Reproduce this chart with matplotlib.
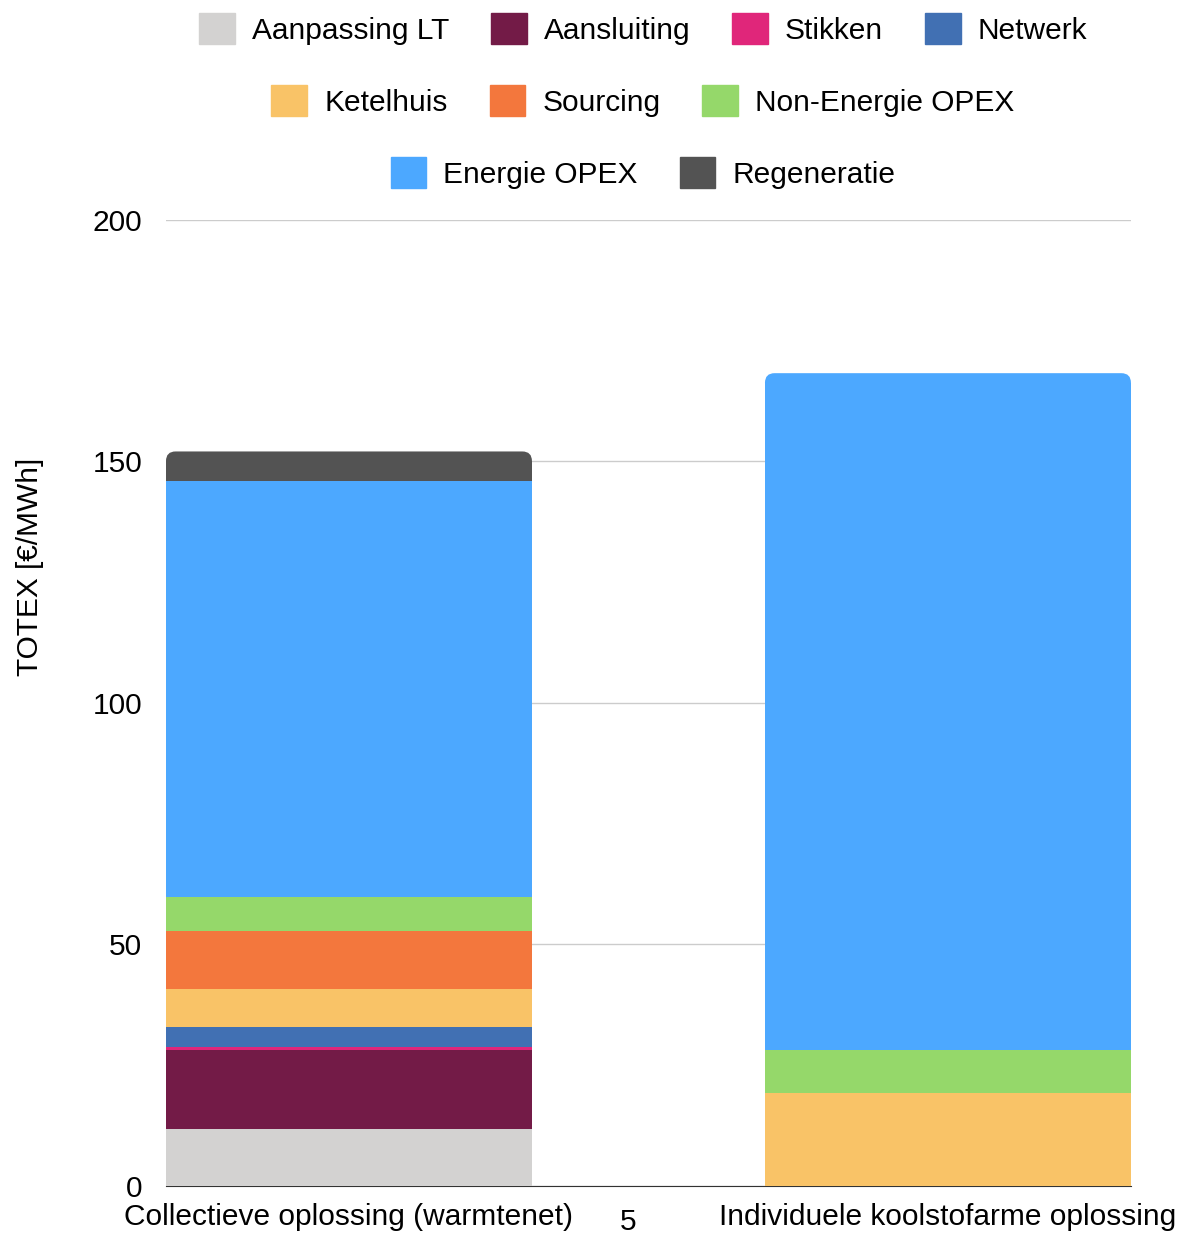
import matplotlib.pyplot as plt
from matplotlib.patches import Patch, FancyBboxPatch

plt.rcParams['font.family'] = ['Liberation Sans', 'DejaVu Sans']

categories = ['Collectieve oplossing (warmtenet)', 'Individuele koolstofarme oplossing']
components = ['Aanpassing LT', 'Aansluiting', 'Stikken', 'Netwerk', 'Ketelhuis',
              'Sourcing', 'Non-Energie OPEX', 'Energie OPEX', 'Regeneratie']
colors = ['#d3d2d1', '#731b47', '#e0267a', '#4170b3', '#f9c367',
          '#f3773d', '#95d86a', '#4ca8ff', '#535353']

aanpassing_lt = [11.85, 0]
aansluiting = [16.2, 0]
stikken = [0.75, 0]
netwerk = [4.15, 0]
ketelhuis = [7.85, 19.15]
sourcing = [12.0, 0]
non_energie_opex = [7.05, 9.05]
energie_opex = [86.05, 140.0]
regeneratie = [6.1, 0]

series = [aanpassing_lt, aansluiting, stikken, netwerk, ketelhuis,
          sourcing, non_energie_opex, energie_opex, regeneratie]

FS = 21.5

fig = plt.figure(figsize=(11.83, 12.36), dpi=100)
ax = fig.add_axes([0.1403, 0.0405, 0.8157, 0.7819])

x = [0, 1]
width = 0.611
rx, ry = 0.016, 2.0   # corner rounding of the top segment, in data units

# which segment is on top for each bar
top_idx = [max(i for i, s in enumerate(series) if s[j] > 0) for j in range(len(x))]

bottom = [0, 0]
for k, (vals, col, name) in enumerate(zip(series, colors, components)):
    h = [v - ry if top_idx[j] == k else v for j, v in enumerate(vals)]
    ax.bar(x, h, width, bottom=bottom, color=col, label=name, zorder=3)
    for j in range(len(x)):
        if top_idx[j] == k:
            top = bottom[j] + vals[j]
            ax.add_patch(FancyBboxPatch((x[j] - width / 2, top - 2 * ry), width, 2 * ry,
                                        boxstyle=f'round,pad=0,rounding_size={rx}',
                                        mutation_aspect=ry / rx, color=col,
                                        linewidth=0, zorder=3))
    bottom = [b + v for b, v in zip(bottom, vals)]

ax.set_xlim(-width / 2, 1 + width / 2)
ax.set_ylim(0, 200)
ax.set_yticks([0, 50, 100, 150, 200])
ax.grid(axis='y', color='#cccccc', linewidth=1, zorder=0)
for s in ['top', 'right', 'left']:
    ax.spines[s].set_visible(False)
ax.spines['bottom'].set_color('#333333')
ax.spines['bottom'].set_zorder(2)
ax.tick_params(axis='both', length=0, labelsize=FS)
ax.tick_params(axis='y', pad=17)
ax.tick_params(axis='x', pad=12.5)
ax.set_xticks(x)
ax.set_xticklabels(categories)
ax.set_ylabel('TOTEX [€/MWh]', fontsize=FS)
ax.yaxis.set_label_coords(-0.126, 0.641)

rows = [[0, 1, 2, 3], [4, 5, 6], [7, 8]]
row_y = [1 - 29 / 1236, 1 - 101 / 1236, 1 - 173 / 1236]
for idx, yy in zip(rows, row_y):
    handles = [Patch(color=colors[i], label=components[i]) for i in idx]
    fig.legend(handles=handles, loc='center', bbox_to_anchor=(0.5435, yy),
               ncol=len(idx), frameon=False, fontsize=FS,
               handlelength=1.2, handleheight=1.2, handletextpad=0.57,
               columnspacing=1.4)

fig.text(628 / 1183, 0, '5', fontsize=FS, ha='center', va='bottom')

fig.savefig('out.png', dpi=100)
